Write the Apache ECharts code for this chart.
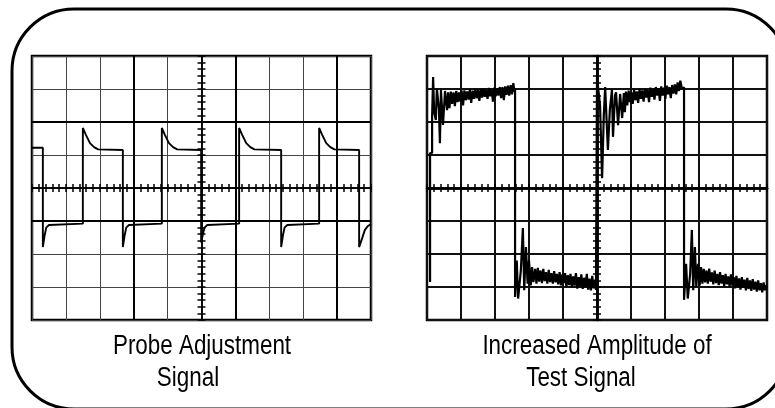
<!DOCTYPE html>
<html>
<head>
<meta charset="utf-8">
<script src="https://cdn.jsdelivr.net/npm/echarts@6/dist/echarts.min.js"></script>
<style>
  html, body { margin: 0; padding: 0; background: #fff; }
  #scope { width: 775px; height: 408px; }
</style>
</head>
<body>
<div id="scope"></div>
<script>
// trace values in screen divisions: [time (0..10), level (-4..4)]
const probeTrace = [
  [0, 1.22], [0.32, 1.22], [0.32, -1.79], [0.37, -1.45], [0.42, -1.2], [0.5, -1.12], [1.5, -1.08],
  [1.5, 1.82], [1.59, 1.61], [1.71, 1.36], [1.83, 1.24], [1.95, 1.17], [2.68, 1.15],
  [2.68, -1.79], [2.73, -1.45], [2.78, -1.2], [2.86, -1.12], [3.83, -1.08],
  [3.83, 1.82], [3.92, 1.61], [4.04, 1.36], [4.16, 1.24], [4.28, 1.17], [4.99, 1.15],
  [4.99, -1.65], [5.04, -1.4], [5.09, -1.2], [5.17, -1.12], [6.11, -1.08],
  [6.11, 1.82], [6.2, 1.61], [6.32, 1.36], [6.44, 1.24], [6.56, 1.17], [7.35, 1.15],
  [7.35, -1.79], [7.4, -1.45], [7.45, -1.2], [7.53, -1.12], [8.47, -1.08],
  [8.47, 1.82], [8.56, 1.61], [8.68, 1.36], [8.8, 1.24], [8.92, 1.17], [9.65, 1.15],
  [9.65, -1.79], [9.74, -1.52], [9.82, -1.27], [9.91, -1.15], [10, -1.09]
];

const testTrace = [
  // first rise and ringing
  [0.09, -2.85], [0.09, 1.06], [0.15, 1.06], [0.15, 2.15], [0.18, 3.36], [0.21, 2.3], [0.26, 2.06],
  [0.29, 3.03], [0.35, 2.4], [0.38, 1.36], [0.41, 2.97], [0.47, 1.91], [0.53, 2.94], [0.59, 2.36],
  // first high level
  [0.62, 2.9], [0.66, 2.42], [0.7, 2.92], [0.74, 2.55], [0.78, 2.9], [0.82, 2.48], [0.86, 2.94],
  [0.9, 2.6], [0.94, 2.9], [0.98, 2.62], [1.02, 2.95], [1.06, 2.5], [1.1, 2.96], [1.14, 2.66],
  [1.18, 2.93], [1.22, 2.68], [1.26, 2.98], [1.3, 2.58], [1.34, 2.95], [1.38, 2.7], [1.42, 3.0],
  [1.46, 2.72], [1.5, 2.97], [1.54, 2.64], [1.58, 3.0], [1.62, 2.74], [1.66, 3.02], [1.7, 2.76],
  [1.74, 2.98], [1.78, 2.7], [1.82, 3.03], [1.86, 2.78], [1.9, 3.0], [1.94, 2.62], [1.98, 3.04],
  [2.02, 2.78], [2.06, 3.02], [2.1, 2.8], [2.14, 3.06], [2.18, 2.72], [2.22, 3.06], [2.26, 2.66],
  [2.3, 3.08], [2.34, 2.82], [2.38, 3.1], [2.42, 2.8], [2.46, 3.12], [2.5, 2.84], [2.54, 3.18], [2.57, 2.92],
  // first fall and ringing
  [2.59, 3.0], [2.59, -3.3], [2.64, -2.2], [2.68, -3.35], [2.76, -2.5], [2.82, -1.21], [2.86, -3.1],
  [2.91, -1.79], [2.96, -2.9], [3.0, -2.2], [3.05, -2.95], [3.09, -2.4], [3.13, -2.85], [3.18, -2.45],
  // first low level
  [3.22, -2.9], [3.26, -2.42], [3.3, -2.84], [3.34, -2.5], [3.38, -2.88], [3.42, -2.45], [3.46, -2.82],
  [3.5, -2.55], [3.54, -2.9], [3.58, -2.48], [3.62, -2.85], [3.66, -2.58], [3.7, -2.9], [3.74, -2.52],
  [3.78, -2.86], [3.82, -2.6], [3.86, -2.92], [3.9, -2.55], [3.94, -2.95], [3.98, -2.62], [4.02, -2.88],
  [4.06, -2.58], [4.1, -3.0], [4.14, -2.64], [4.18, -2.94], [4.22, -2.6], [4.26, -3.02], [4.3, -2.68],
  [4.34, -2.96], [4.38, -2.58], [4.42, -3.05], [4.46, -2.7], [4.5, -2.98], [4.54, -2.62], [4.58, -3.06],
  [4.62, -2.72], [4.66, -3.0], [4.7, -2.6], [4.74, -3.08], [4.78, -2.75], [4.82, -3.1], [4.86, -2.66],
  [4.9, -3.04], [4.94, -2.78], [4.97, -3.09],
  // second rise and ringing
  [5.0, -3.09], [5.0, 3.36], [5.09, 2.5], [5.15, 0.3], [5.2, 2.2], [5.24, 3.06], [5.32, 1.15],
  [5.38, 2.4], [5.44, 2.97], [5.47, 1.55], [5.53, 2.8], [5.56, 2.9], [5.62, 1.9], [5.68, 2.85],
  [5.74, 2.12], [5.79, 2.88], [5.82, 2.3],
  // second high level
  [5.85, 2.92], [5.89, 2.5], [5.93, 2.95], [5.97, 2.6], [6.01, 2.9], [6.05, 2.55], [6.09, 2.98],
  [6.13, 2.66], [6.17, 2.93], [6.21, 2.58], [6.25, 3.0], [6.29, 2.7], [6.33, 2.96], [6.37, 2.62],
  [6.41, 3.02], [6.45, 2.74], [6.49, 2.98], [6.53, 2.6], [6.57, 3.04], [6.61, 2.76], [6.65, 3.0],
  [6.69, 2.68], [6.73, 3.06], [6.77, 2.8], [6.81, 3.02], [6.85, 2.64], [6.89, 3.08], [6.93, 2.8],
  [6.97, 3.04], [7.01, 2.7], [7.05, 3.1], [7.09, 2.84], [7.13, 3.06], [7.17, 2.72], [7.21, 3.12],
  [7.25, 2.86], [7.29, 3.14], [7.33, 2.84], [7.37, 3.2], [7.41, 2.94], [7.45, 3.25], [7.5, 3.0],
  // second fall and ringing
  [7.56, 3.05], [7.56, -3.39], [7.62, -2.3], [7.67, -3.35], [7.74, -2.6], [7.79, -1.27], [7.83, -3.1],
  [7.88, -1.79], [7.92, -3.0], [7.97, -2.3], [8.02, -2.95], [8.06, -2.4], [8.1, -2.9],
  // second low level
  [8.14, -2.45], [8.18, -2.86], [8.22, -2.5], [8.26, -2.9], [8.3, -2.44], [8.34, -2.84], [8.38, -2.56],
  [8.42, -2.92], [8.46, -2.5], [8.5, -2.88], [8.54, -2.6], [8.58, -2.94], [8.62, -2.55], [8.66, -2.9],
  [8.7, -2.64], [8.74, -2.98], [8.78, -2.6], [8.82, -2.92], [8.86, -2.68], [8.9, -3.0], [8.94, -2.62],
  [8.98, -2.96], [9.02, -2.7], [9.06, -3.04], [9.1, -2.66], [9.14, -3.0], [9.18, -2.74], [9.22, -3.08],
  [9.26, -2.7], [9.3, -3.02], [9.34, -2.78], [9.38, -3.1], [9.42, -2.72], [9.46, -3.06], [9.5, -2.8],
  [9.54, -3.12], [9.58, -2.76], [9.62, -3.08], [9.66, -2.84], [9.7, -3.14], [9.74, -2.8], [9.78, -3.1],
  [9.82, -2.88], [9.86, -3.16], [9.9, -2.86], [9.94, -3.1], [9.97, -2.95], [10, -3.03]
];

// heavier graticule lines on the left screen
const probeHeavyTime = [3, 6, 9];
const probeHeavyLevel = [2, -1];

const leftCaption = ['Probe Adjustment', 'Signal'];
const rightCaption = ['Increased Amplitude of', 'Test Signal'];

// condensed look, narrowed horizontally
const captionFont = '27px "Liberation Sans", Arial, sans-serif';
const captionSqueeze = 0.83;

const chart = echarts.init(document.getElementById('scope'));

function mainX(grid) {
  return {
    type: 'value', gridIndex: grid, min: 0, max: 10, interval: 1,
    axisLine: { show: false }, axisTick: { show: false }, axisLabel: { show: false },
    splitLine: { show: true, lineStyle: { color: grid === 0 ? '#444' : '#111', width: grid === 0 ? 1 : 2 } }
  };
}
function mainY(grid) {
  return {
    type: 'value', gridIndex: grid, min: -4, max: 4, interval: 1,
    axisLine: { show: false }, axisTick: { show: false }, axisLabel: { show: false },
    splitLine: { show: true, lineStyle: { color: grid === 0 ? '#444' : '#111', width: grid === 0 ? 1 : 2 } }
  };
}
// center graticule lines with fine ticks on both sides
function tickAxis(grid, pos, range, zeroIdx, lineW) {
  return {
    type: 'value', gridIndex: grid, position: pos, min: -range, max: range, interval: 1,
    axisLine: { show: true, onZero: true, onZeroAxisIndex: zeroIdx, lineStyle: { color: '#000', width: lineW } },
    axisTick: { show: true, inside: false, length: 4, lineStyle: { color: '#000', width: 1.5 } },
    minorTick: { show: true, splitNumber: 5, length: 4, lineStyle: { color: '#000', width: 1.5 } },
    axisLabel: { show: false },
    splitLine: { show: false }
  };
}

function caption(text, x, y) {
  return {
    type: 'text', x: x, y: y, scaleX: captionSqueeze, silent: true,
    style: {
      text: text, font: captionFont, fill: '#000',
      textAlign: 'center', textVerticalAlign: 'middle', align: 'center', verticalAlign: 'middle'
    }
  };
}

const leftBox = { left: 32, top: 56, width: 339, height: 264 };
const rightBox = { left: 427, top: 56, width: 340, height: 264 };

const option = {
  backgroundColor: '#fff',
  animation: false,
  grid: [
    Object.assign({ show: true, borderColor: '#000', borderWidth: 2.5 }, leftBox),
    Object.assign({}, leftBox),
    Object.assign({ show: true, borderColor: '#000', borderWidth: 2.5 }, rightBox),
    Object.assign({}, rightBox)
  ],
  xAxis: [
    mainX(0),
    tickAxis(1, 'bottom', 5, 1, 1.5),
    tickAxis(1, 'top', 5, 1, 1.5),
    mainX(2),
    tickAxis(3, 'bottom', 5, 4, 2.5),
    tickAxis(3, 'top', 5, 4, 2.5)
  ],
  yAxis: [
    mainY(0),
    tickAxis(1, 'left', 4, 1, 1.5),
    tickAxis(1, 'right', 4, 1, 1.5),
    mainY(2),
    tickAxis(3, 'left', 4, 4, 2.5),
    tickAxis(3, 'right', 4, 4, 2.5)
  ],
  series: [
    {
      type: 'line', xAxisIndex: 0, yAxisIndex: 0, data: probeTrace,
      showSymbol: false, silent: true, z: 3,
      lineStyle: { color: '#000', width: 1.9 },
      markLine: {
        silent: true, symbol: ['none', 'none'], label: { show: false },
        lineStyle: { color: '#000', width: 2, type: 'solid' },
        data: probeHeavyTime.map(v => ({ xAxis: v })).concat(probeHeavyLevel.map(v => ({ yAxis: v })))
      }
    },
    {
      type: 'line', xAxisIndex: 3, yAxisIndex: 3, data: testTrace,
      showSymbol: false, silent: true, z: 3,
      lineStyle: { color: '#000', width: 2.2 }
    }
  ],
  graphic: [
    {
      type: 'rect', silent: true,
      shape: { x: 12, y: 9, width: 776, height: 400, r: 62 },
      style: { fill: 'none', stroke: '#000', lineWidth: 3 }
    },
    caption(leftCaption[0], 202, 347),
    caption(leftCaption[1], 188, 379),
    caption(rightCaption[0], 597, 347),
    caption(rightCaption[1], 581, 379)
  ]
};

option && chart.setOption(option);
</script>
</body>
</html>
